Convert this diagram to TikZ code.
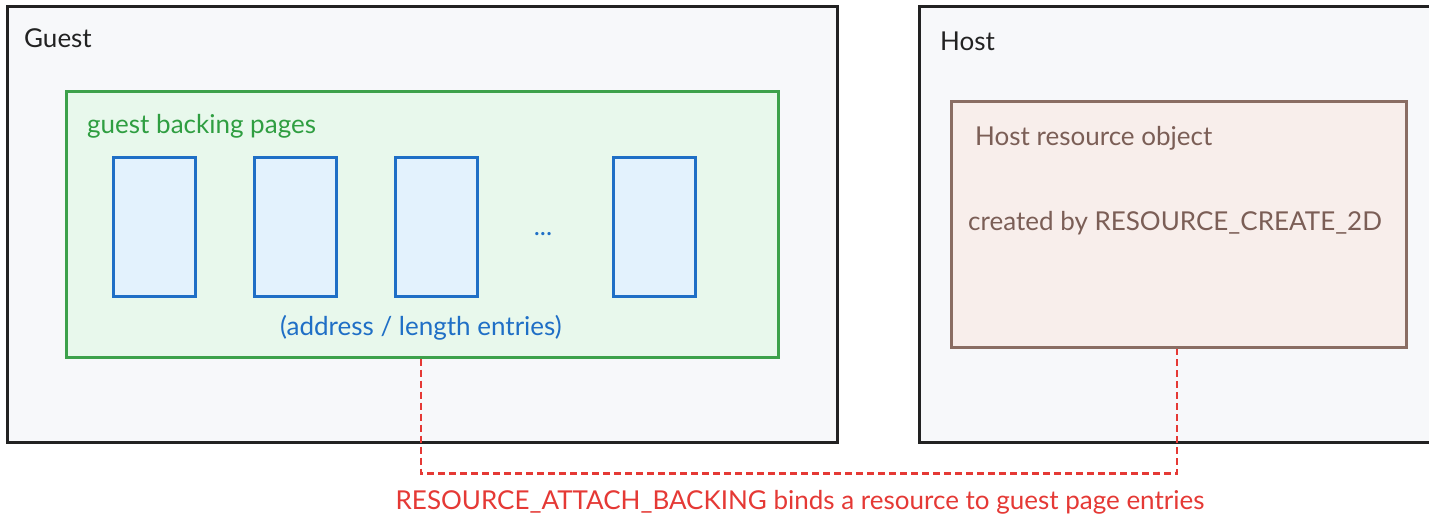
\documentclass[tikz,border=0pt]{standalone}
\usepackage{fontspec}
\setmainfont{Lato}
\definecolor{panelfill}{HTML}{F7F8FA}
\definecolor{panelline}{HTML}{222222}
\definecolor{greenfill}{HTML}{E8F8EC}
\definecolor{greenline}{HTML}{3DA14B}
\definecolor{greentext}{HTML}{2F9E41}
\definecolor{pagefill}{HTML}{E3F2FD}
\definecolor{pageline}{HTML}{1F6FC6}
\definecolor{resfill}{HTML}{F8EEEB}
\definecolor{resline}{HTML}{8A6D63}
\definecolor{restext}{HTML}{7B5E56}
\definecolor{linkred}{HTML}{E53935}
\tikzset{
  panel/.style={draw=panelline, fill=panelfill, line width=2.5pt, anchor=north west, inner sep=0pt},
  pagegroup/.style={draw=greenline, fill=greenfill, line width=2.5pt, anchor=north west, inner sep=0pt},
  pagebox/.style={draw=pageline, fill=pagefill, line width=2.5pt, anchor=north west, inner sep=0pt,
    minimum width=82pt, minimum height=139pt},
  resbox/.style={draw=resline, fill=resfill, line width=2.5pt, anchor=north west, inner sep=0pt},
  lbl/.style={anchor=base west, inner sep=0pt, font=\fontsize{26}{30}\selectfont},
  link/.style={draw=linkred, line width=2.5pt, dash pattern=on 7pt off 4pt}
}
\begin{document}
\begin{tikzpicture}[x=1pt, y=-1pt]
  \useasboundingbox (0,0) rectangle (1429,515);
  \clip (0,0) rectangle (1429,515);
  \fill[white] (0,0) rectangle (1429,515);

  % guest side
  \node[panel, minimum width=830pt, minimum height=436pt] (guest) at (6,5) {};
  \node[lbl, text=panelline] (guesttitle) at (24,47) {Guest};
  \node[pagegroup, minimum width=712pt, minimum height=266pt] (pages) at (65,90) {};
  \node[lbl, text=greentext] (pagestitle) at (87,133) {guest backing pages};
  \node[pagebox] (p1) at (112,156) {};
  \node[pagebox] (p2) at (253,156) {};
  \node[pagebox] (p3) at (394,156) {};
  \node[pagebox] (pn) at (612,156) {};
  \node[lbl, anchor=base, text=pageline] (dots) at (543,235) {...};
  \node[lbl, anchor=base, text=pageline] (entries) at (421,335) {(address / length entries)};

  % host side
  \node[panel, minimum width=530pt, minimum height=436pt] (host) at (918,5) {};
  \node[lbl, text=panelline] (hosttitle) at (940,50) {Host};
  \node[resbox, minimum width=455pt, minimum height=246pt] (res) at (950,100) {};
  \node[lbl, text=restext] (restitle) at (975,145) {Host resource object};
  \node[lbl, text=restext] (resnote) at (968,230) {created by RESOURCE\_CREATE\_2D};

  % binding between the two
  \draw[link] ([xshift=356pt]pages.south west) |- ([xshift=227pt,yshift=-125pt]res.south west)
    -- ([xshift=227pt]res.south west);
  \node[lbl, anchor=base, text=linkred] (bindnote) at (800,509)
    {RESOURCE\_ATTACH\_BACKING binds a resource to guest page entries};
\end{tikzpicture}
\end{document}
